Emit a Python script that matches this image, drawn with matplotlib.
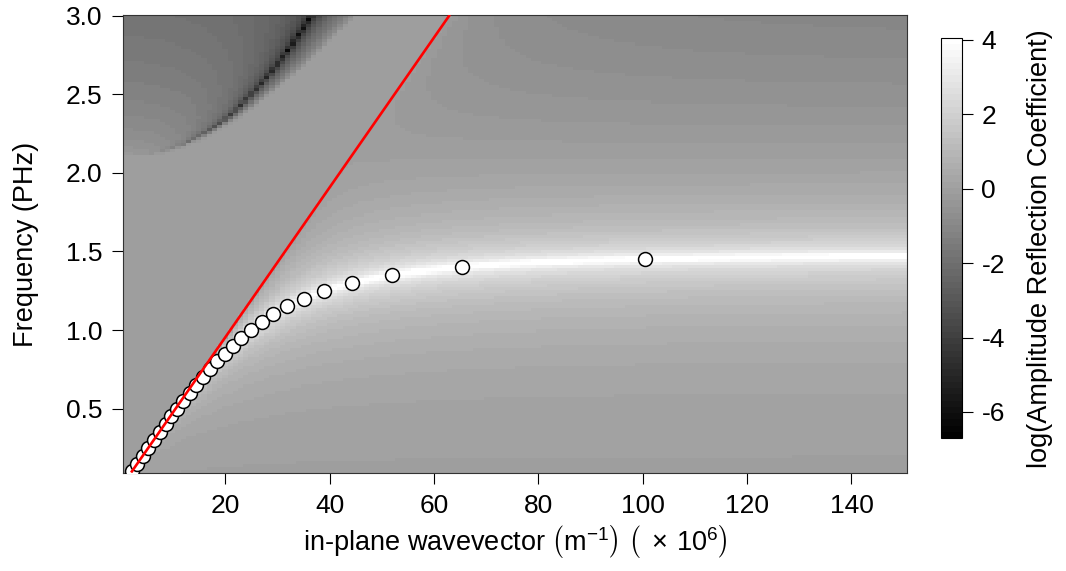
import numpy as np
import matplotlib
matplotlib.use("Agg")
import matplotlib.pyplot as plt
from matplotlib.colors import ListedColormap

plt.rcParams['font.family'] = ['Liberation Sans', 'DejaVu Sans']
plt.rcParams['mathtext.fontset'] = 'custom'
plt.rcParams['mathtext.rm'] = 'Liberation Sans'
plt.rcParams['mathtext.it'] = 'Liberation Sans:italic'
plt.rcParams['axes.unicode_minus'] = False

# puntos de la relacion de dispersion (frecuencia en PHz, k en 1e6 m^-1)
spp_f = [0.10, 0.15, 0.20, 0.25, 0.30, 0.35, 0.40, 0.45, 0.50, 0.55,
         0.60, 0.65, 0.70, 0.75, 0.80, 0.85, 0.90, 0.95, 1.00, 1.05,
         1.10, 1.15, 1.20, 1.25, 1.30, 1.35, 1.40, 1.45]
spp_k = [2.10, 3.15, 4.21, 5.28, 6.35, 7.44, 8.55, 9.67, 10.81, 11.98,
         13.17, 14.41, 15.68, 17.01, 18.40, 19.87, 21.43, 23.10, 24.93, 26.95,
         29.23, 31.88, 35.04, 39.00, 44.27, 52.03, 65.4, 100.4]

# linea de luz (extremos)
luz_k = [2.10, 62.9]
luz_f = [0.10, 3.00]

# parametros del metal (modelo de Drude), en PHz
f_p = 2.10
gamma = 0.012
c = 2.998e8

# malla del mapa
k_bordes = np.linspace(0.4, 150.7, 151)
f_bordes = np.linspace(0.09, 3.005, 151)
kc = 0.5 * (k_bordes[1:] + k_bordes[:-1])
fc = 0.5 * (f_bordes[1:] + f_bordes[:-1])
K, F = np.meshgrid(kc * 1e6, fc)

eps_m = 1 - f_p**2 / (F**2 + 1j * gamma * F)
k0 = 2 * np.pi * F * 1e15 / c
kz1 = np.sqrt(k0**2 - K**2 + 0j)
kz2 = np.sqrt(eps_m * k0**2 - K**2 + 0j)
rp = (eps_m * kz1 - kz2) / (eps_m * kz1 + kz2)
Z = np.log(np.abs(rp))

grises = ListedColormap(plt.cm.gray(np.linspace(0, 1, 64)))

fig = plt.figure(figsize=(10.66, 5.71), dpi=100)
ax = fig.add_axes([123 / 1066, 1 - 473 / 571, (907.3 - 123) / 1066, (473 - 15) / 571])
mapa = ax.pcolormesh(k_bordes, f_bordes, Z, cmap=grises, vmin=-6.7, vmax=4.05,
                     shading='flat', rasterized=True)

ax.plot(spp_k, spp_f, 'o', ms=10, mfc='white', mec='black', mew=1.1, zorder=3)
ax.plot(luz_k, luz_f, color='red', lw=1.9, zorder=4)

ax.set_xlim(0.4, 150.7)
ax.set_ylim(0.09, 3.005)
ax.set_xticks([20, 40, 60, 80, 100, 120, 140])
ax.set_yticks([0.5, 1.0, 1.5, 2.0, 2.5, 3.0])
ax.set_yticklabels(['0.5', '1.0', '1.5', '2.0', '2.5', '3.0'])
ax.tick_params(labelsize=19, length=8, width=0.8, pad=7)
for s in ax.spines.values():
    s.set_linewidth(0.8)
    s.set_color('#333333')

ax.set_xlabel(r'in-plane wavevector $\left(\mathrm{m}^{-1}_{\,}\right)\ \left(\ \times\,10^{6}_{\,}\right)$',
              fontsize=19.5, labelpad=4)
ax.set_ylabel('Frequency (PHz)', fontsize=19.5, labelpad=19)

cax = fig.add_axes([941 / 1066, 1 - 438 / 571, 21 / 1066, 400 / 571])
cb = fig.colorbar(mapa, cax=cax, ticks=[-6, -4, -2, 0, 2, 4])
cb.outline.set_linewidth(0.8)
cax.tick_params(labelsize=19, length=8, width=0.8, pad=6)
fig.text(1040 / 1066, 1 - 249 / 571, 'log(Amplitude Reflection Coefficient)',
         rotation=90, ha='center', va='center', fontsize=19.5)

fig.savefig('out.png', dpi=100)
